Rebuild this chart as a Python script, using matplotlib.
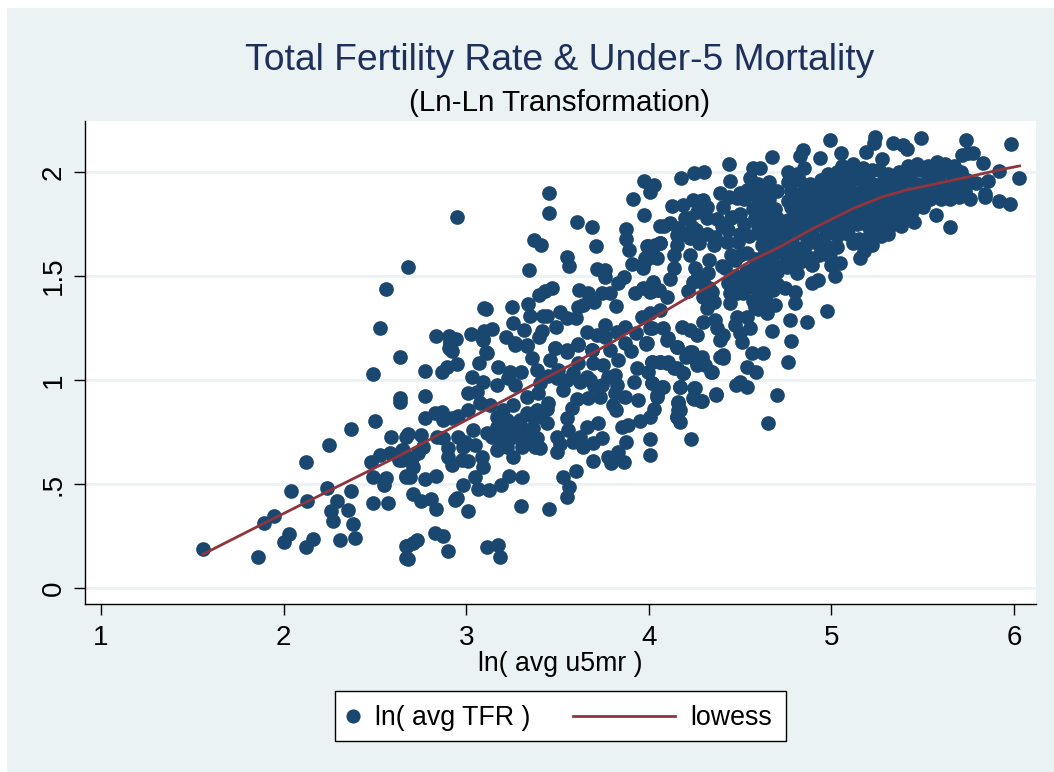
import matplotlib
matplotlib.use('Agg')
import matplotlib.pyplot as plt
from matplotlib.lines import Line2D
from matplotlib.patches import Rectangle
import numpy as np

plt.rcParams['font.family'] = ['Liberation Sans', 'DejaVu Sans']

# values, (ln u5mr, ln tfr)
pts_low = [
    (1.56,.186),(1.86,.148),(1.89,.312),(1.95,.346),(2.03,.261),(2.00,.22),(2.12,.196),(2.16,.237),
    (2.04,.466),(2.13,.42),(2.12,.607),(2.25,.686),(2.24,.482),(2.29,.418),(2.26,.37),(2.27,.322),
    (2.35,.376),(2.37,.468),(2.38,.306),(2.39,.24),(2.31,.231),(2.37,.764),(2.49,1.029),(2.64,1.112),
    (2.64,.913),(2.64,.894),(2.50,.801),(2.59,.724),(2.67,.727),(2.48,.604),(2.53,.639),(2.58,.647),
    (2.65,.663),(2.63,.615),(2.49,.534),(2.56,.53),(2.55,.495),(2.49,.407),(2.57,.407),(2.67,.535),
    (2.67,.2),(2.67,.144),(2.53,1.25),(2.56,1.437),(2.68,1.545),(2.95,1.782),
]
pts_mid_low = [
    (2.683,.14),(2.673,.201),(2.728,.23),(2.71,.217),(2.827,.262),(2.871,.251),(2.902,.179),(3.115,.198),
    (3.175,.206),(3.186,.148),(2.832,.378),(3.011,.371),(3.298,.394),(3.451,.378),(2.71,.453),(2.75,.418),
    (2.805,.426),(2.951,.432),(2.938,.423),(2.98,.493),(3.062,.475),(3.126,.472),(3.19,.496),(3.234,.538),
    (3.305,.533),(3.048,.535),(2.692,.535),(2.67,.538),(2.774,.524),(2.832,.536),(2.71,.583),(2.701,.623),
    (2.737,.647),(2.646,.615),(2.655,.663),(3.093,.583),(3.084,.631),(2.92,.591),(2.902,.631),(2.902,.671),
    (2.975,.615),(3.011,.612),(2.984,.676),(3.048,.687),(2.956,.727),(2.993,.703),(2.838,.727),(2.874,.719),
    (2.765,.679),(2.683,.738),(2.75,.735),(3.531,.532),(3.599,.562),(3.564,.487),(3.55,.439),(3.692,.61),
    (3.778,.631),(3.79,.602),(3.832,.652),(3.863,.608),(3.874,.70),(4.008,.716),(4.008,.641),(4.23,.716),
    (3.495,.655),(3.513,.692),(3.495,.727),(3.559,.759),(3.55,.815),(3.58,.863),(3.604,.907),(3.668,.911),
    (3.732,.92),(3.741,.976),(3.778,1.016),(3.814,1.024),(3.823,.976),(3.814,.936),(3.805,.879),(3.82,.855),
    (3.869,.92),(3.92,.992),(3.94,.903),(3.951,.804),(4.009,.82),(4.03,.859),(4.019,.984),(4.073,.968),
    (4.042,.92),(4.17,.968),(4.248,.96),(4.285,.90),(4.243,.911),(4.367,.931),(4.161,.895),(4.161,.855),
    (4.152,.823),(4.17,.796),(3.851,.775),(3.887,.785),(3.723,.791),(3.663,.775),(3.741,.719),(3.696,.695),
    (3.637,.679),(3.586,.703),(3.622,.727),(3.44,.791),(3.413,.823),(3.385,.855),(3.449,.887),(3.331,.92),
    (3.394,.936),(3.403,.984),(3.531,.952),(3.495,1.008),(3.622,.992),(3.659,1.016),(3.586,1.032),(3.458,1.096),
    (3.385,1.048),(3.358,1.104),(3.486,1.152),(3.55,1.144),(3.61,1.168),(3.613,1.08),(3.686,1.144),(3.695,1.08),
    (3.787,1.144),(3.832,1.096),(3.933,1.059),(3.984,1.173),(4.015,1.088),(3.997,1.04),(4.06,1.088),(4.106,1.088),
    (4.152,1.056),(4.188,1.032),(4.203,1.112),(4.234,1.136),(4.261,1.08),(4.289,1.112),(4.343,1.04),(4.307,1.072),
    (4.389,1.112),(4.152,1.16),(4.097,1.192),(2.774,1.043),(2.774,.923),(2.865,1.04),(2.892,1.064),(2.947,1.075),
    (2.92,1.141),(2.911,1.184),(3.07,1.08),(3.111,1.131),(3.093,1.192),(3.172,1.064),(3.239,1.04),(3.298,1.036),
    (3.029,1.016),(3.093,.992),(3.011,.936),(3.057,.943),(3.166,.976),(3.267,.976),(3.23,1.008),(3.075,.887),
    (3.011,.855),(3.13,.879),(3.258,.879),(2.774,.815),(2.829,.842),(2.865,.847),(2.874,.807),(2.956,.826),
    (2.92,.815),(3.038,.759),(3.111,.743),(3.166,.775),(3.221,.807),(3.203,.855),(3.294,.807),(3.367,.823),
    (3.312,.727),(3.258,.727),(3.184,.711),(3.221,.679),(3.258,.628),(3.166,.663),(3.376,.679),(3.403,.671),
    (3.385,.719),(3.303,.679),(3.139,.727),(3.367,.767),(3.267,1.168),(3.331,1.163),
    (3.2,.76),(3.26,.78),(3.33,.76),(3.3,.72),(3.23,.74),(3.2,.69),(3.35,.7),(3.33,.84),(3.44,.86),(3.17,.82),
    (3.55,1.0),(3.5,1.05),(3.45,1.02),(3.68,1.0),(3.75,1.07),(3.9,1.14),(3.87,1.18),(3.7,.97),
]
pts_upper_mid = [
    (2.836,1.213),(2.906,1.212),(2.944,1.196),(2.911,1.18),(2.904,1.152),(3.099,1.346),(3.108,1.34),(3.251,1.349),
    (3.337,1.364),(3.351,1.308),(3.399,1.407),(3.432,1.429),(3.468,1.441),(3.42,1.309),(3.441,1.308),(3.512,1.325),
    (3.55,1.297),(3.6,1.3),(3.492,1.256),(3.258,1.272),(3.315,1.239),(3.218,1.208),(3.413,1.237),(3.399,1.208),
    (3.028,1.222),(3.097,1.237),(3.139,1.247),(3.094,1.196),(3.108,1.136),(3.267,1.178),(3.331,1.168),(3.486,1.152),
    (3.55,1.136),(3.61,1.173),(3.69,1.144),(3.662,1.229),(3.715,1.216),(3.758,1.266),(3.76,1.208),(3.824,1.231),
    (3.87,1.256),(3.928,1.224),(3.985,1.176),(4.016,1.248),(3.961,1.304),(4.007,1.321),(4.06,1.336),(3.616,1.433),
    (3.669,1.417),(3.614,1.353),(3.641,1.36),(3.7,1.376),(3.742,1.417),(3.788,1.417),(3.82,1.356),(3.833,1.465),
    (3.864,1.497),(3.718,1.534),(3.76,1.529),(3.76,1.494),(3.924,1.42),(3.97,1.441),(4.021,1.47),(4.016,1.428),
    (4.057,1.433),(3.906,1.556),(3.97,1.553),(3.979,1.585),(4.034,1.59),(3.988,1.644),(4.034,1.649),(4.06,1.657),
    (3.889,1.625),(3.875,1.676),(3.875,1.726),(3.972,1.793),(3.912,1.872),(4.006,1.906),(4.03,1.935),(3.972,1.958),
    (4.06,1.74),(3.451,1.898),(3.455,1.804),(3.371,1.673),(3.408,1.649),(3.607,1.761),(3.689,1.734),(3.713,1.646),
    (3.553,1.593),(3.564,1.55),(3.344,1.529),
]
pts_right = [
    (5.981,2.135),(6.027,1.969),(5.978,1.844),(5.916,1.859),(5.918,2.005),(5.843,1.881),(5.843,1.893),(5.759,1.87),
    (5.859,1.957),(5.792,1.945),(5.832,2.042),(5.735,2.154),(5.75,2.09),(5.777,2.09),(5.713,2.082),(5.651,1.737),
    (5.573,1.793),(5.489,2.165),(5.412,2.109),(5.394,2.13),(5.339,2.141),(5.24,2.17),(5.235,2.138),(5.189,2.095),
    (5.277,2.061),(5.051,2.093),(4.994,2.152),(4.937,2.066),(4.843,2.106),(4.828,2.078),(4.673,2.074),(4.609,2.021),
    (4.573,2.018),(4.441,2.038),(4.445,1.958),(4.302,2.002),(4.248,1.994),(4.176,1.973),(4.554,1.973),(4.39,1.897),
    (4.536,1.913),(4.481,1.873),(4.408,1.83),(4.299,1.865),(4.244,1.865),(4.189,1.841),(4.129,1.838),(4.454,1.782),
    (4.372,1.772),(4.317,1.777),(4.198,1.78),(4.235,1.737),(4.262,1.809),(4.116,1.753),(4.083,1.74),(4.153,1.697),
    (4.436,1.721),(4.363,1.689),(4.354,1.649),(4.427,1.665),(4.49,1.665),(4.226,1.681),(4.277,1.657),(4.062,1.657),
    (3.998,1.644),(4.153,1.649),(4.135,1.601),(4.226,1.601),(4.33,1.577),(4.043,1.585),(3.988,1.58),(3.97,1.537),
    (4.253,1.537),(4.326,1.513),(4.14,1.54),(4.116,1.484),(4.025,1.468),(4.007,1.424),(4.052,1.432),(4.098,1.4),
    (4.217,1.428),(4.299,1.4),(4.344,1.424),(4.354,1.376),(4.317,1.344),(4.417,1.537),(4.472,1.577),(4.536,1.609),
    (4.436,1.465),(4.499,1.465),(4.445,1.416),(4.518,1.416),(4.445,1.368),(4.563,1.448),(4.609,1.416),(4.682,1.432),
    (4.6,1.489),(4.682,1.497),(4.582,1.352),(4.645,1.32),(4.691,1.36),(4.746,1.44),(4.801,1.424),(4.801,1.372),
    (4.773,1.288),(4.865,1.277),(4.978,1.333),(4.673,1.235),(4.779,1.189),(4.762,1.086),(4.70,.929),(4.655,.791),
    (4.563,1.131),(4.627,1.128),(4.536,1.064),(4.585,1.04),(4.478,.976),(4.5,.992),(4.54,.968),(4.368,.929),
    (4.253,.96),(4.249,.907),(4.29,.9),(4.171,.968),(4.08,.968),(4.016,.984),(4.043,.928),(4.162,.891),
    (4.171,.855),(4.153,.823),(4.344,1.04),(4.29,1.096),(4.262,1.072),(4.208,1.12),(4.226,1.136),(4.189,1.032),
    (4.135,1.056),(4.098,1.08),(4.016,1.088),(4.062,1.088),(4.408,1.12),(4.408,1.104),(4.509,1.184),(4.554,1.248),
    (4.5,1.224),(4.472,1.264),(4.481,1.304),(4.536,1.304),(4.39,1.192),(4.408,1.216),(4.372,1.248),(4.363,1.288),
    (4.299,1.28),(4.262,1.216),(4.226,1.24),(4.18,1.256),(4.153,1.16),(4.107,1.2),(4.08,1.248),(4.007,1.248),
    (3.988,1.176),
    (4.47,1.5),(4.53,1.52),(4.48,1.42),(4.56,1.5),(4.62,1.45),(4.66,1.47),(4.7,1.46),(4.64,1.38),(4.6,1.34),(4.57,1.38),
    (4.4,1.55),(4.45,1.6),(4.5,1.6),(4.58,1.58),(4.3,1.46),(4.24,1.47),(4.27,1.5),(4.33,1.44),(4.18,1.7),(4.22,1.78),
    (4.16,1.73),(4.26,1.72),(4.32,1.7),(4.4,1.74),(4.45,1.78),(4.5,1.8),(4.52,1.75),(4.5,1.7),(4.44,1.88),(4.5,1.9),
    (4.32,1.83),(4.28,1.86),
]
# the dense cloud at the top right
pts_cloud = [
    (5.06,2.03),(5.12,2.04),(5.17,2.02),(5.22,2.01),(5.42,2.03),(5.47,2.04),(5.53,2.03),(5.58,2.05),(5.62,2.04),(5.67,2.03),
    (4.76,2.0),(4.81,1.99),(4.85,2.02),(4.98,1.99),(5.03,2.0),(5.08,1.98),(5.14,2.0),(5.2,1.99),(5.26,2.01),(5.31,1.99),
    (5.37,2.0),(5.43,1.98),(5.49,2.01),(5.55,1.99),(5.6,2.0),(5.66,1.99),(5.71,2.0),
    (4.6,1.94),(4.66,1.95),(4.76,1.95),(4.82,1.96),(4.88,1.94),(4.94,1.96),(5.0,1.95),(5.05,1.94),(5.11,1.96),(5.17,1.95),
    (5.23,1.94),(5.29,1.96),(5.35,1.95),(5.41,1.96),(5.47,1.94),(5.53,1.96),(5.59,1.95),(5.65,1.94),(5.7,1.95),(5.74,1.96),
    (4.57,1.9),(4.63,1.9),(4.7,1.91),(4.78,1.91),(4.84,1.9),(4.9,1.92),(4.96,1.9),(5.02,1.91),(5.08,1.92),(5.14,1.9),
    (5.2,1.91),(5.26,1.9),(5.32,1.92),(5.38,1.91),(5.44,1.9),(5.5,1.91),(5.56,1.92),(5.62,1.9),(5.68,1.89),(5.73,1.91),
    (4.52,1.87),(4.6,1.86),(4.66,1.87),(4.76,1.86),(4.82,1.88),(4.88,1.86),(4.94,1.87),(5.0,1.86),(5.06,1.88),(5.12,1.86),
    (5.18,1.87),(5.24,1.85),(5.3,1.87),(5.36,1.86),(5.42,1.87),(5.48,1.86),(5.54,1.87),(5.6,1.87),(5.65,1.87),(5.7,1.88),
    (4.57,1.82),(4.63,1.83),(4.69,1.82),(4.78,1.83),(4.84,1.82),(4.9,1.83),(4.96,1.81),(5.02,1.83),(5.08,1.82),(5.14,1.83),
    (5.2,1.81),(5.26,1.83),(5.32,1.82),(5.38,1.83),(5.44,1.81),(5.5,1.83),
    (4.58,1.78),(4.64,1.79),(4.7,1.78),(4.76,1.77),(4.82,1.79),(4.88,1.78),(4.94,1.79),(5.0,1.77),(5.06,1.79),(5.12,1.78),
    (5.18,1.79),(5.24,1.77),(5.3,1.79),(5.36,1.78),(5.42,1.79),(5.45,1.76),
    (4.6,1.74),(4.66,1.74),(4.72,1.73),(4.78,1.75),(4.84,1.74),(4.9,1.73),(4.96,1.75),(5.02,1.74),(5.08,1.73),(5.14,1.75),
    (5.2,1.74),(5.26,1.73),(5.32,1.74),(5.38,1.74),
    (4.61,1.7),(4.67,1.69),(4.73,1.7),(4.79,1.69),(4.85,1.7),(4.91,1.68),(4.97,1.7),(5.03,1.69),(5.09,1.7),(5.15,1.68),
    (5.21,1.7),(5.27,1.69),(5.31,1.7),
    (4.55,1.69),(4.62,1.65),(4.68,1.65),(4.74,1.66),(4.8,1.64),(4.86,1.65),(4.92,1.66),(4.98,1.64),(5.03,1.64),(5.12,1.657),
    (5.22,1.649),(5.17,1.66),
    (4.63,1.6),(4.69,1.61),(4.75,1.6),(4.81,1.61),(4.87,1.59),(4.93,1.6),(4.99,1.59),(5.157,1.585),(5.18,1.62),
    (4.6,1.56),(4.66,1.56),(4.72,1.55),(4.78,1.56),(4.84,1.57),(4.892,1.553),(5.0,1.553),(5.047,1.56),
    (4.755,1.545),(4.81,1.513),(4.892,1.465),(4.928,1.48),(5.02,1.5),(4.56,1.53),(4.63,1.51),(4.7,1.52),
]
# lowess line
lowess_x = [1.56,1.87,2.64,2.89,3.26,3.44,3.59,3.81,3.95,4.03,4.19,4.37,4.55,4.72,4.90,5.12,5.28,5.41,5.56,5.73,5.92,6.03]
lowess_y = [.163,.301,.639,.756,.927,1.012,1.08,1.187,1.261,1.301,1.384,1.469,1.569,1.641,1.729,1.825,1.881,1.913,1.941,1.973,2.01,2.029]

x_ticks = [1, 2, 3, 4, 5, 6]
y_ticks = [0, 0.5, 1, 1.5, 2]
y_labels = ['0', '.5', '1', '1.5', '2']

navy = '#1a476f'
maroon = '#90353b'
bg = '#eaf2f3'

W, H = 1054, 772
fig = plt.figure(figsize=(W / 100, H / 100), dpi=100, facecolor='white')
# white strip only on the left and top of the picture
fig.patches.append(Rectangle((7 / W, 0), 1 - 7 / W, 1 - 8 / H, transform=fig.transFigure,
                             facecolor=bg, edgecolor='none', zorder=-5))

ax = fig.add_axes([84.5 / W, 1 - 604 / H, 951.5 / W, 483 / H], facecolor='white')
pts = np.array(pts_low + pts_mid_low + pts_upper_mid + pts_right + pts_cloud)
ax.scatter(pts[:, 0], pts[:, 1], s=112, color=navy, linewidths=0, zorder=3)
ax.plot(lowess_x, lowess_y, color=maroon, lw=2, zorder=4)

ax.set_xlim(0.9096, 6.12)
ax.set_ylim(-0.077, 2.245)
ax.set_axisbelow(True)
ax.yaxis.grid(True, color=bg, lw=2)
ax.xaxis.grid(False)
ax.spines['top'].set_visible(False)
ax.spines['right'].set_visible(False)
ax.spines['left'].set_linewidth(1)
ax.spines['bottom'].set_linewidth(1)

ax.set_xticks(x_ticks)
ax.set_yticks(y_ticks)
ax.set_yticklabels(y_labels, rotation=90, va='center')
ax.tick_params(axis='both', length=8, width=1, labelsize=20, pad=7)
ax.tick_params(axis='y', pad=5)

fig.text(560 / W, 1 - 60 / H, 'Total Fertility Rate & Under-5 Mortality', fontsize=26.8, color='#1f2f5c',
         ha='center', va='center')
fig.text(560 / W, 1 - 103 / H, '(Ln-Ln Transformation)', fontsize=21.3, color='black', ha='center', va='center')
fig.text(560 / W, 1 - 664 / H, 'ln( avg u5mr )', fontsize=19.2, color='black', ha='center', va='center')

# legend box drawn by hand so the two keys keep their own widths
fig.patches.append(Rectangle((335 / W, 1 - 741 / H), 451 / W, 50 / H, transform=fig.transFigure,
                             facecolor='white', edgecolor='black', lw=1))
fig.add_artist(Line2D([353 / W], [1 - 716 / H], marker='o', ms=10.2, color=navy, mew=0, ls='none'))
fig.add_artist(Line2D([573 / W, 675 / W], [1 - 716 / H] * 2, color=maroon, lw=2))
fig.text(375 / W, 1 - 718 / H, 'ln( avg TFR )', fontsize=19.3, ha='left', va='center')
fig.text(690 / W, 1 - 718 / H, 'lowess', fontsize=19.3, ha='left', va='center')

fig.savefig('out.png', dpi=100)
